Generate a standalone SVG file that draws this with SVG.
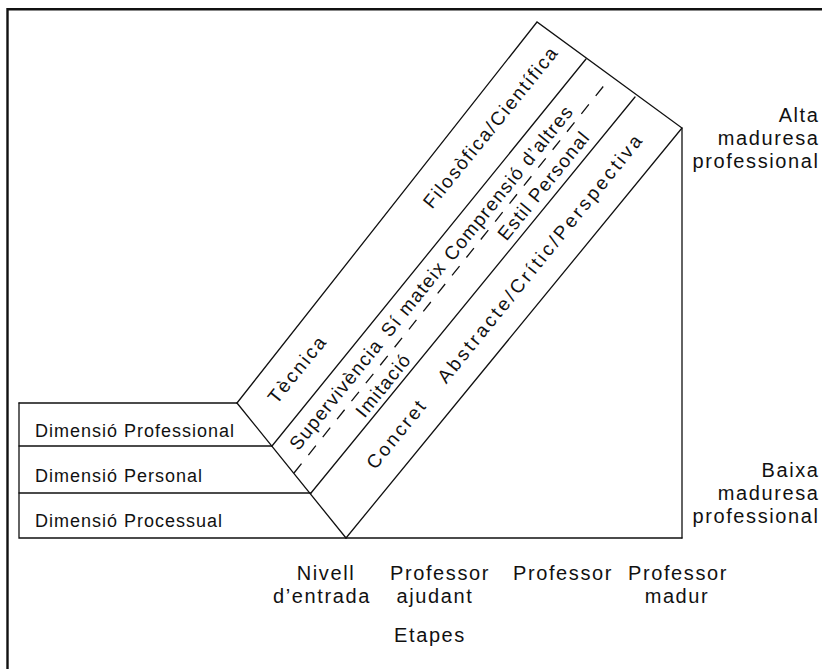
<svg xmlns="http://www.w3.org/2000/svg" width="822" height="669" viewBox="0 0 822 669">
<style>
.ln{stroke:#111;stroke-width:1.3;fill:none;stroke-linecap:round}
.dash{stroke:#111;stroke-width:1.3;fill:none;stroke-dasharray:12 11}
.frame{stroke:#111;stroke-width:2.4;fill:none}
text{font-family:"Liberation Sans",Arial,sans-serif;font-size:18px;fill:#111;letter-spacing:1px}
.b{font-size:19px;letter-spacing:1.3px;text-anchor:middle}
.a{font-size:20px;letter-spacing:1.6px}
.r{text-anchor:end}
.m{text-anchor:middle}
</style>
<rect width="822" height="669" fill="#fff"/>
<g id="frame"><path class="frame" d="M7.5 669 V9.2 H822"/></g>
<g id="dimensions">
  <g id="dim-professional"><path class="ln" d="M19 403 H237 M19 446 H272"/><text x="35" y="437">Dimensió Professional</text></g>
  <g id="dim-personal"><path class="ln" d="M19 493 H311"/><text x="35" y="482">Dimensió Personal</text></g>
  <g id="dim-processual"><path class="ln" d="M19 403 V538 H682"/><text x="35" y="527">Dimensió Processual</text></g>
</g>
<g id="connectors">
  <path class="ln" d="M237 403 L346 538"/>
  <path class="ln" d="M237 403 L537 22 L682 128 V538"/>
  <path class="ln" d="M272 446 L586 59"/>
  <path class="ln" d="M311 493 L635 97"/>
  <path class="ln" d="M346 538 L682 128"/>
  <path class="dash" d="M294 473 L610 78"/>
</g>
<g id="band" transform="translate(237 403) rotate(-51)">
  <g id="tecnica"><text class="b" x="64" y="32" textLength="81" lengthAdjust="spacing">Tècnica</text></g>
  <g id="filosofica"><text class="b" x="374" y="30" textLength="202" lengthAdjust="spacing">Filosòfica/Científica</text></g>
  <g id="supervivencia"><text class="b" x="69" y="78">Supervivència</text></g>
  <g id="si-mateix"><text class="b" x="192" y="78">Sí mateix</text></g>
  <g id="comprensio"><text class="b" x="342" y="79">Comprensió d’altres</text></g>
  <g id="imitacio"><text class="b" x="106" y="109">Imitació</text></g>
  <g id="estil"><text class="b" x="362" y="108">Estil Personal</text></g>
  <g id="concret"><text class="b" x="76" y="150" textLength="83" lengthAdjust="spacing">Concret</text></g>
  <g id="abstracte"><text class="b" x="303" y="151" textLength="314" lengthAdjust="spacing">Abstracte/Crític/Perspectiva</text></g>
</g>
<g id="alta" class="a"><text class="a r" x="819.5" y="122">Alta</text><text class="a r" x="819.5" y="145">maduresa</text><text class="a r" x="819.5" y="168">professional</text></g>
<g id="baixa"><text class="a r" x="819.5" y="477">Baixa</text><text class="a r" x="819.5" y="500">maduresa</text><text class="a r" x="819.5" y="523">professional</text></g>
<g id="etapes-labels">
  <g id="nivell"><text class="a m" x="326" y="580">Nivell</text><text class="a m" x="322" y="603">d’entrada</text></g>
  <g id="ajudant"><text class="a m" x="440" y="580">Professor</text><text class="a m" x="435" y="603">ajudant</text></g>
  <g id="professor"><text class="a m" x="563" y="580">Professor</text></g>
  <g id="madur"><text class="a m" x="678" y="580">Professor</text><text class="a m" x="677" y="603">madur</text></g>
  <g id="etapes"><text class="a m" x="430" y="642">Etapes</text></g>
</g>
</svg>
